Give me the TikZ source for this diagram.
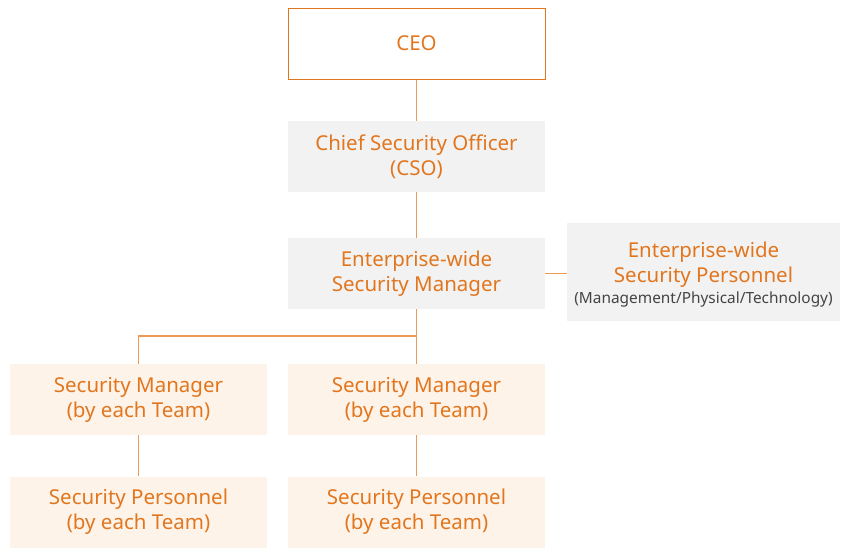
\documentclass[tikz,border=0pt]{standalone}
\usepackage{fontspec}
\setmainfont{Noto Sans}
\definecolor{txt}{HTML}{E2761E}
\definecolor{ln}{HTML}{EE9A55}
\definecolor{graybox}{HTML}{F2F2F2}
\definecolor{peach}{HTML}{FEF3E8}
\definecolor{sub}{HTML}{444444}
\begin{document}
\begin{tikzpicture}[x=1pt,y=-1pt,
  box/.style={minimum width=257pt,minimum height=71pt,inner sep=0pt,align=center,text=txt,font=\fontsize{20.5}{25}\selectfont},
  gbox/.style={box,fill=graybox},
  pbox/.style={box,fill=peach},
  conn/.style={draw=ln,line width=1.3pt}]
\useasboundingbox (0,0) rectangle (841,547);
\node[box,draw=txt,line width=1pt] (ceo) at (416.5,43.5) {CEO};
\node[gbox] (cso) at (416.5,156.5) {Chief Security Officer\\(CSO)};
\node[gbox] (esm) at (416.5,273.5) {Enterprise-wide\\Security Manager};
\node[gbox,minimum width=273pt,minimum height=98pt,text depth=0pt] (esp) at (703.5,272) {\\[-8pt]Enterprise-wide\\Security Personnel\\[-4pt]{\color{sub}\fontsize{15.4}{18}\selectfont(Management/Physical/Technology)}};
\node[pbox] (sm1) at (138.5,399.5) {Security Manager\\(by each Team)};
\node[pbox] (sm2) at (416.5,399.5) {Security Manager\\(by each Team)};
\node[pbox] (sp1) at (138.5,512) {Security Personnel\\(by each Team)};
\node[pbox] (sp2) at (416.5,512) {Security Personnel\\(by each Team)};
\coordinate (br) at (416.5,336);
\draw[conn] (ceo) -- (cso);
\draw[conn] (cso) -- (esm);
\draw[conn] (esm.east) -- (esm.east -| esp.west);
\draw[conn] (esm) -- (sm2);
\draw[conn] (br) -| (sm1);
\draw[conn] (sm1) -- (sp1);
\draw[conn] (sm2) -- (sp2);
\end{tikzpicture}
\end{document}
